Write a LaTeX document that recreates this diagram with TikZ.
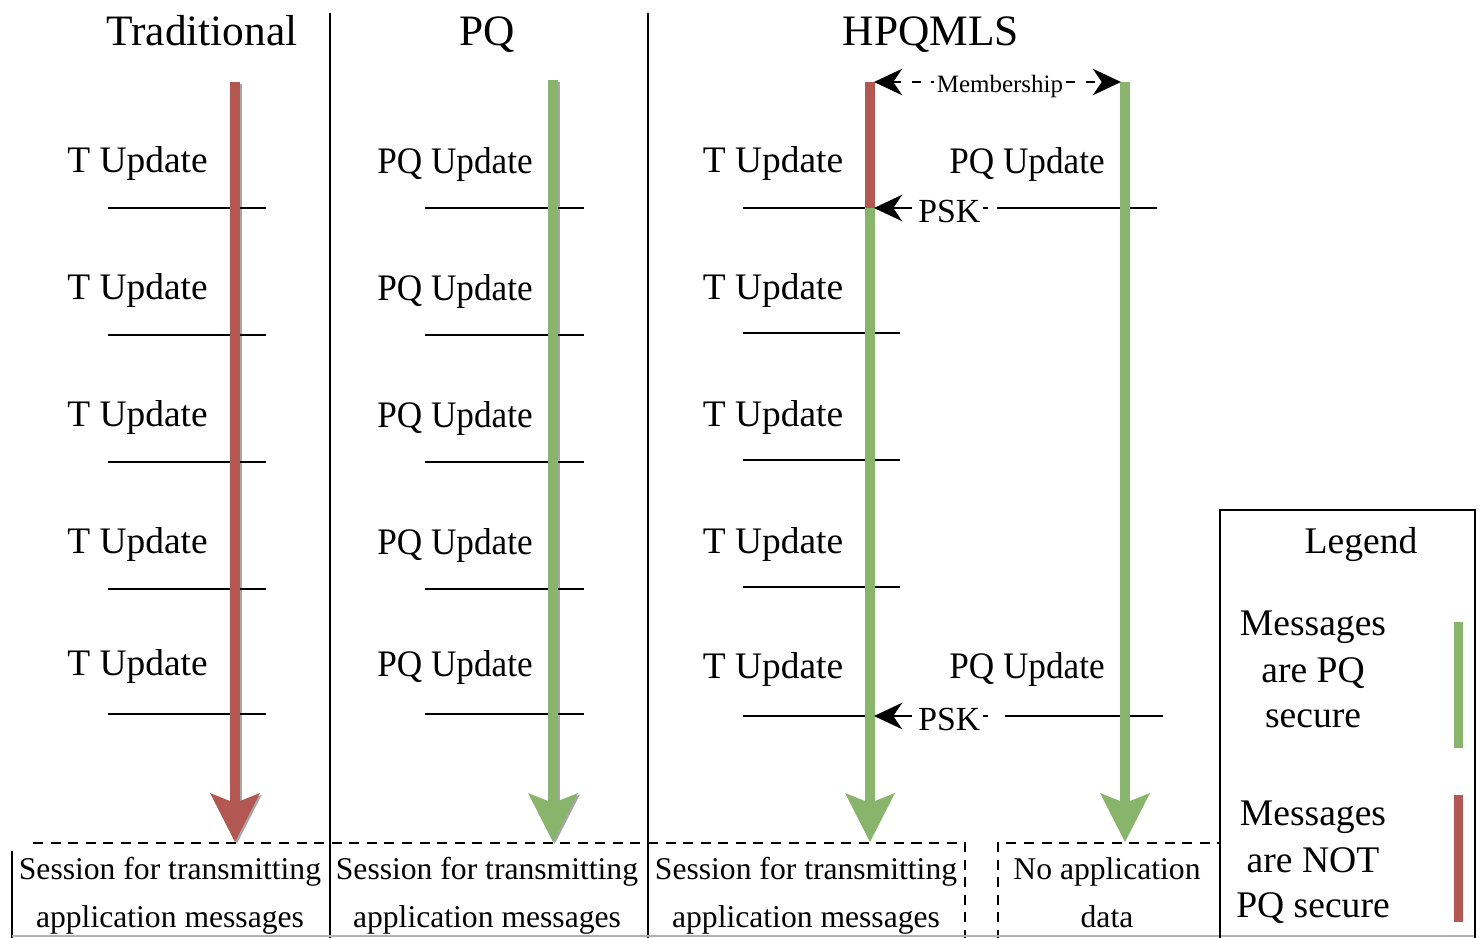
\documentclass[tikz,border=0pt]{standalone}
\usepackage{fontspec}
\setmainfont{Liberation Serif}
\usetikzlibrary{arrows.meta}
\definecolor{redA}{HTML}{B25752}
\definecolor{greenA}{HTML}{88B46C}
\newcommand\fsz[1]{\fontsize{#1pt}{#1pt}\selectfont}
\newcommand\timearrow[3]{%
  \draw[shaft,#3] (#1,#2) -- (#1,806);
  \fill[#3] (#1-25,793) -- (#1,842) -- (#1+25,793) -- (#1,803) -- cycle;}
\tikzset{
  lbl/.style={font=\fsz{21.3}, inner sep=0pt, anchor=base},
  pqlbl/.style={lbl, xscale=0.94, transform shape},
  ttl/.style={font=\fsz{24.7}, inner sep=0pt, anchor=base},
  sml/.style={font=\fsz{14.2}, inner sep=1.5pt, anchor=base, fill=white},
  sess/.style={font=\fsz{18}, inner sep=0pt, anchor=base},
  leg/.style={font=\fsz{21.4}, inner sep=0pt, anchor=base},
  psk/.style={font=\fsz{19.2}, inner sep=0pt, anchor=base west},
  rule/.style={line width=1.5pt},
  colline/.style={line width=1.6pt},
  dsh/.style={line width=1.4pt, dash pattern=on 5.7pt off 4.3pt},
  memline/.style={line width=1.4pt, dash pattern=on 5pt off 6pt},
  shaft/.style={line width=5.67pt},
  legbar/.style={line width=5.1pt},
  tipA/.style={-{Stealth[length=16pt,width=15pt,inset=5pt]}},
  tipB/.style={{Stealth[length=16pt,width=15pt,inset=5pt]}-{Stealth[length=16pt,width=15pt,inset=5pt]}},
}
\begin{document}
\begin{tikzpicture}[x=0.02cm,y=-0.02cm]
\path[use as bounding box] (0,0) rectangle (1483,937);
\clip (0,0) rectangle (1483,937);

% column separators
\draw[colline] (330,13) -- (330,940);
\draw[colline] (648,13) -- (648,940);

% titles
\node[ttl] (ttrad) at (202,45) {Traditional};
\node[ttl] (tpq) at (487,45) {PQ};
\node[ttl] (thp) at (931,45) {HPQMLS};

% Traditional column
\foreach \y/\b [count=\i] in {208/172,335/299,462/426,589/553,714/675} {
  \draw[rule] (108,\y) -- (266,\y);
  \node[lbl] (tr\i) at (137.5,\b) {T Update};
}
% PQ column
\foreach \y/\b [count=\i] in {208/173,335/300,462/427,589/554,714/676} {
  \draw[rule] (425,\y) -- (584,\y);
  \node[pqlbl] (pq\i) at (455,\b) {PQ Update};
}
% HPQMLS column
\foreach \b [count=\i] in {172,299,426,553,678} {
  \node[lbl] (hp\i) at (773,\b) {T Update};
}
\foreach \y in {333,460,587} {
  \draw[rule] (743,\y) -- (900,\y);
}
\draw[rule] (743,208) -- (870,208);
\draw[rule] (997,208) -- (1157,208);
\draw[rule] (743,716) -- (870,716);
\draw[rule] (1005,716) -- (1163,716);
\node[pqlbl] (hq1) at (1027,173) {PQ Update};
\node[pqlbl] (hq2) at (1027,678) {PQ Update};

% shadows of first two arrows
\begin{scope}[shift={(1.8,1.8)}, opacity=0.35]
  \timearrow{235}{82}{black}
  \timearrow{553}{80}{black}
\end{scope}
% time arrows
\timearrow{235}{82}{redA}
\timearrow{553}{80}{greenA}
\timearrow{870}{208}{greenA}
\draw[shaft,redA] (870,82) -- (870,208);
\timearrow{1125}{82}{greenA}

% membership
\coordinate (memL) at (874,82);
\coordinate (memR) at (1121,82);
\draw[memline, tipB] (memL) -- (memR);
\node[sml] (mem) at (1000,92) {Membership};

% PSK arrows
\node[psk] (psk1) at (918,222) {PSK};
\node[psk] (psk2) at (918,730) {PSK};
\coordinate (psk1s) at (912,208);
\coordinate (psk1e) at (874,208);
\coordinate (psk2s) at (912,716);
\coordinate (psk2e) at (874,716);
\draw[rule, tipA] (psk1s) -- (psk1e);
\draw[rule, tipA] (psk2s) -- (psk2e);
\draw[rule] (983,208) -- (988,208);
\draw[rule] (983,716) -- (988,716);

% bottom boxes
\draw[dsh] (33,843) -- (965,843) -- (965,940);
\draw[colline] (12,851) -- (12,940);
\draw[dsh] (998,940) -- (998,843) -- (1220,843);
\draw[black!30, line width=0.7pt] (12,936) -- (1475,936);

\node[sess] (s1a) at (170,879) {Session for transmitting};
\node[sess] (s1b) at (170,927) {application messages};
\node[sess] (s2a) at (487,879) {Session for transmitting};
\node[sess] (s2b) at (487,927) {application messages};
\node[sess] (s3a) at (806,879) {Session for transmitting};
\node[sess] (s3b) at (806,927) {application messages};
\node[sess] (s4a) at (1107,879) {No application};
\node[sess] (s4b) at (1107,927) {data};

% legend
\draw[colline] (1220,940) -- (1220,510) -- (1475,510) -- (1475,940);
\node[leg] (lgt) at (1361,553) {Legend};
\node[leg] (lg1) at (1313,635) {Messages};
\node[leg] (lg2) at (1313,682) {are PQ};
\node[leg] (lg3) at (1313,727) {secure};
\node[leg] (lg4) at (1313,825) {Messages};
\node[leg] (lg5) at (1313,872) {are NOT};
\node[leg] (lg6) at (1313,917) {PQ secure};
\draw[legbar, greenA] (1458,622) -- (1458,748);
\draw[legbar, redA] (1458,795) -- (1458,922);
\end{tikzpicture}
\end{document}
